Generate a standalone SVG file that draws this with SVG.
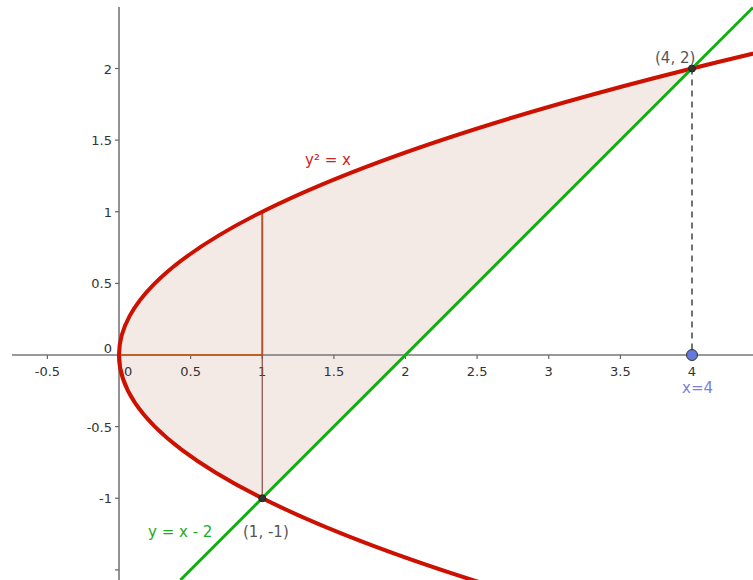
<svg xmlns="http://www.w3.org/2000/svg" width="753" height="580" viewBox="0 0 753 580">
  <style>
    .tick { stroke: #666; stroke-width: 1.2; }
    .axis { stroke: #777; stroke-width: 1.6; fill: none; }
    .tl { font-family: "DejaVu Sans", sans-serif; font-size: 13px; fill: #333; }
    .tly { font-family: "DejaVu Sans", sans-serif; font-size: 13px; fill: #333; text-anchor: end; }
    .lbl { font-family: "DejaVu Sans", sans-serif; font-size: 15px; }
  </style>
  <rect width="753" height="580" fill="#ffffff"/>

  <!-- shaded region between y^2 = x and y = x - 2 -->
  <g id="region">
    <path d="M262.25,498.25 Q-167.5,283.375 692,68.5 Z" fill="#f3eae5" stroke="none"/>
  </g>

  <!-- axes -->
  <g id="axes">
    <line class="axis" x1="12" y1="355" x2="753" y2="355"/>
    <line class="axis" x1="119" y1="7" x2="119" y2="580"/>
    <g>
      <line class="tick" x1="47.4" y1="355" x2="47.4" y2="359"/>
      <line class="tick" x1="190.6" y1="355" x2="190.6" y2="359"/>
      <line class="tick" x1="262.25" y1="355" x2="262.25" y2="359"/>
      <line class="tick" x1="333.9" y1="355" x2="333.9" y2="359"/>
      <line class="tick" x1="405.5" y1="355" x2="405.5" y2="359"/>
      <line class="tick" x1="477.1" y1="355" x2="477.1" y2="359"/>
      <line class="tick" x1="548.75" y1="355" x2="548.75" y2="359"/>
      <line class="tick" x1="620.4" y1="355" x2="620.4" y2="359"/>
      <line class="tick" x1="692" y1="355" x2="692" y2="359"/>
      <line class="tick" x1="115" y1="68.5" x2="119" y2="68.5"/>
      <line class="tick" x1="115" y1="140.1" x2="119" y2="140.1"/>
      <line class="tick" x1="115" y1="211.75" x2="119" y2="211.75"/>
      <line class="tick" x1="115" y1="283.4" x2="119" y2="283.4"/>
      <line class="tick" x1="115" y1="426.6" x2="119" y2="426.6"/>
      <line class="tick" x1="115" y1="498.25" x2="119" y2="498.25"/>
      <line class="tick" x1="115" y1="569.9" x2="119" y2="569.9"/>
    </g>
    <g>
      <text class="tl" x="47.4" y="376" text-anchor="middle">-0.5</text>
      <text class="tl" x="124" y="376">0</text>
      <text class="tl" x="190.6" y="376" text-anchor="middle">0.5</text>
      <text class="tl" x="262.25" y="376" text-anchor="middle">1</text>
      <text class="tl" x="333.9" y="376" text-anchor="middle">1.5</text>
      <text class="tl" x="405.5" y="376" text-anchor="middle">2</text>
      <text class="tl" x="477.1" y="376" text-anchor="middle">2.5</text>
      <text class="tl" x="548.75" y="376" text-anchor="middle">3</text>
      <text class="tl" x="620.4" y="376" text-anchor="middle">3.5</text>
      <text class="tl" x="692" y="376" text-anchor="middle">4</text>
      <text class="tly" x="112" y="73.5">2</text>
      <text class="tly" x="112" y="145">1.5</text>
      <text class="tly" x="112" y="216.5">1</text>
      <text class="tly" x="112" y="288">0.5</text>
      <text class="tly" x="112" y="353">0</text>
      <text class="tly" x="112" y="431.5">-0.5</text>
      <text class="tly" x="112" y="503">-1</text>
    </g>
  </g>

  <!-- helper segments -->
  <g id="segments">
    <line x1="119" y1="355" x2="262.25" y2="355" stroke="#c0602a" stroke-width="2"/>
    <line x1="262.25" y1="211.75" x2="262.25" y2="355" stroke="#b8522a" stroke-width="2"/>
    <line x1="262.25" y1="355" x2="262.25" y2="498.25" stroke="#8a4848" stroke-width="1.2"/>
    <line x1="692" y1="68.5" x2="692" y2="355" stroke="#444" stroke-width="1.5" stroke-dasharray="6,5"/>
  </g>

  <!-- curves -->
  <g id="curves">
    <path id="parabola" d="M485.72,584.2 Q-373.78,315.61 781.17,47.01" fill="none" stroke="#cc1100" stroke-width="4"/>
    <line id="line" x1="180.4" y1="580" x2="753" y2="7.5" stroke="#10b010" stroke-width="3"/>
  </g>

  <!-- points -->
  <g id="pt-4-2">
    <circle cx="692" cy="68.5" r="3.5" fill="#333" stroke="#222" stroke-width="1"/>
    <text class="lbl" x="655" y="63" fill="#555">(4, 2)</text>
  </g>
  <g id="pt-1-m1">
    <circle cx="262.25" cy="498.25" r="3.5" fill="#333" stroke="#222" stroke-width="1"/>
    <text class="lbl" x="243" y="537" fill="#555">(1, -1)</text>
  </g>
  <g id="pt-x4">
    <circle cx="692" cy="355" r="5.5" fill="#6677dd" stroke="#333" stroke-width="1"/>
    <text class="lbl" x="682" y="393" fill="#7a80e0" font-size="13">x=4</text>
  </g>

  <!-- curve labels -->
  <g id="label-parabola">
    <text class="lbl" x="305" y="165" fill="#cc2222">y² = x</text>
  </g>
  <g id="label-line">
    <text class="lbl" x="148" y="537" fill="#22aa22">y = x - 2</text>
  </g>
</svg>
